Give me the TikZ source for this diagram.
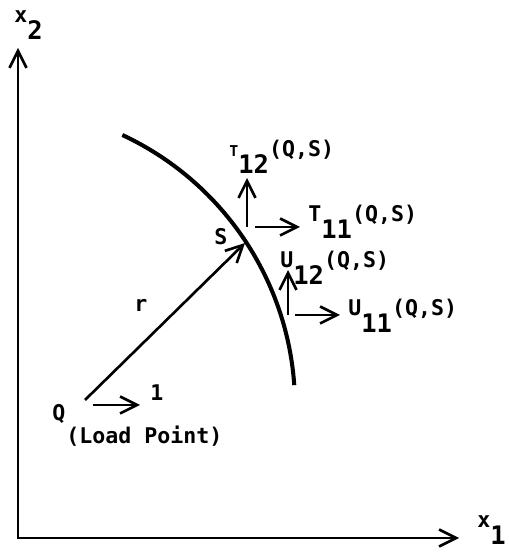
\documentclass[tikz,border=0pt]{standalone}
\usepackage{fontspec}
\newfontfamily\plotfont{DejaVu Sans Mono}
\usetikzlibrary{arrows.meta,calc}
\newcommand{\bigsub}[1]{\raisebox{-9.5pt}{\fontsize{14.5}{17}\selectfont #1}}
\newcommand{\qslab}[2]{#1\bigsub{#2}(Q,S)}

\begin{document}
\begin{tikzpicture}[x=0.02cm,y=0.02cm,>={Straight Barb[length=3.4mm,width=3.4mm]},
  axis/.style={line width=1.5pt},
  vec/.style={->,line width=1.5pt},
  boundary/.style={line width=2.3pt},
  lbl/.style={font=\plotfont\bfseries\fontsize{12.3}{14}\selectfont,
    inner sep=0pt,anchor=base west}]
  \useasboundingbox (0,0) rectangle (509,553);

  \coordinate (O) at (18,15);
  \coordinate (X1) at (459,15);
  \coordinate (X2) at (18,505);
  \coordinate (C) at (-4,147);
  \coordinate (Q) at (85,153);
  \coordinate (S) at (245,310);
  \coordinate (L0) at (93,148);
  \coordinate (L1) at (140,148);
  \coordinate (T0) at (247,326);
  \coordinate (T12) at (247,375);
  \coordinate (T10) at (255,326);
  \coordinate (T11) at (300,326);
  \coordinate (U0) at (288,238);
  \coordinate (U12) at (288,283);
  \coordinate (U10) at (295,238);
  \coordinate (U11) at (340,238);

  \draw[axis,<->] (X2) -- (O) -- (X1);
  \draw[boundary] ($(C)+(65:299)$) arc[start angle=65,end angle=4,radius=299];
  \draw[vec] (Q) -- (S);
  \draw[vec] (L0) -- (L1);
  \draw[vec] (T0) -- (T12);
  \draw[vec] (T10) -- (T11);
  \draw[vec] (U0) -- (U12);
  \draw[vec] (U10) -- (U11);

  \node[lbl] (x2lab) at (14,530) {x\bigsub{2}};
  \node[lbl] (x1lab) at (477,25) {x\bigsub{1}};
  \node[lbl] (qlab) at (52,132) {Q};
  \node[lbl] (load) at (66,109) {(Load Point)};
  \node[lbl] (onelab) at (150,152) {1};
  \node[lbl] (rlab) at (134,241) {r};
  \node[lbl] (slab) at (214,308) {S};
  \node[lbl] (t12lab) at (229,396) {\qslab{{\fontsize{8.5}{9}\selectfont T}}{12}};
  \node[lbl] (t11lab) at (308,331) {\qslab{T}{11}};
  \node[lbl] (u12lab) at (280,285) {\qslab{U}{12}};
  \node[lbl] (u11lab) at (348,237) {\qslab{U}{11}};
\end{tikzpicture}
\end{document}
